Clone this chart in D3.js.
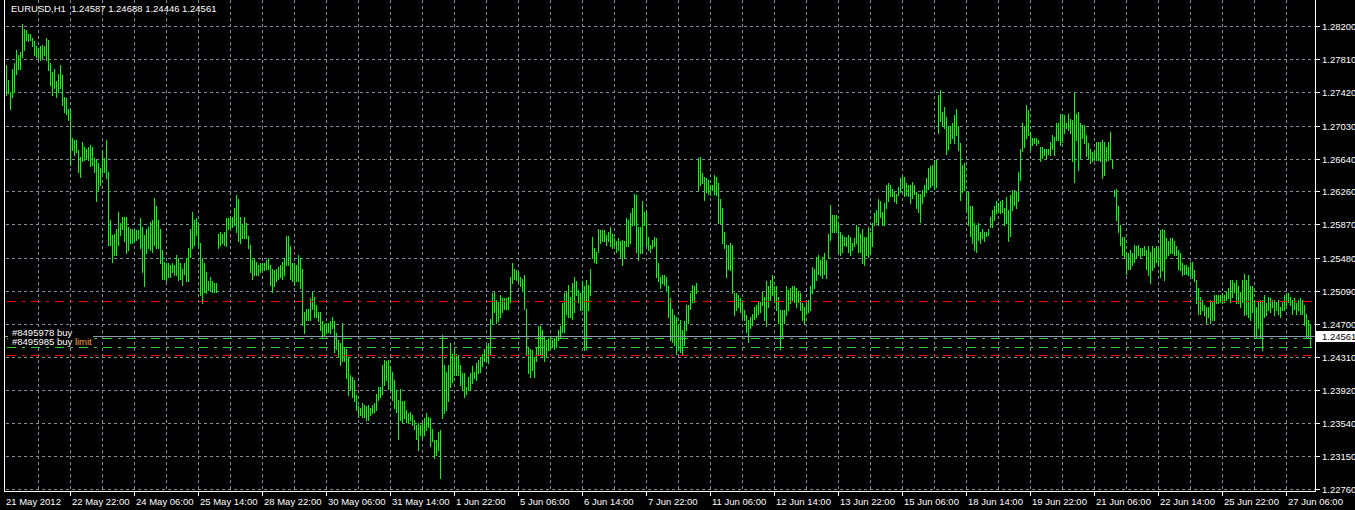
<!DOCTYPE html>
<html><head><meta charset="utf-8">
<script src="https://cdn.jsdelivr.net/npm/d3@7"></script>
<style>
html,body{margin:0;padding:0;background:#000;}
svg{display:block;}
text{font-family:"Liberation Sans",Arial,sans-serif;font-size:9.5px;white-space:pre;}
</style></head>
<body><svg id="chart" width="1355" height="510"></svg>
<script>
// ---- DATA (EURUSD H1, one bar per hour, 21 May 2012 14:00 .. 27 Jun 2012 18:00) ----
const symbolTitle = "EURUSD,H1  1.24587 1.24688 1.24446 1.24561";
const highs = [
1.2774,1.2757,1.2743,1.2770,1.2776,1.2792,1.2786,1.2790,1.2822,1.2817,
1.2815,1.2811,1.2811,1.2806,1.2802,1.2796,1.2794,1.2796,1.2798,1.2796,
1.2806,1.2804,1.2776,1.2766,1.2770,1.2755,1.2764,1.2774,1.2762,1.2737,
1.2735,1.2723,1.2721,1.2688,1.2686,1.2686,1.2674,1.2666,1.2684,1.2678,
1.2676,1.2678,1.2680,1.2678,1.2665,1.2663,1.2659,1.2653,1.2674,1.2665,
1.2686,1.2649,1.2592,1.2574,1.2576,1.2582,1.2602,1.2588,1.2596,1.2596,
1.2596,1.2584,1.2582,1.2582,1.2582,1.2580,1.2580,1.2594,1.2584,1.2574,
1.2582,1.2584,1.2590,1.2592,1.2618,1.2608,1.2592,1.2582,1.2557,1.2543,
1.2541,1.2541,1.2539,1.2541,1.2539,1.2551,1.2547,1.2541,1.2535,1.2541,
1.2547,1.2559,1.2582,1.2602,1.2592,1.2594,1.2586,1.2565,1.2547,1.2541,
1.2531,1.2520,1.2525,1.2520,1.2518,1.2518,1.2576,1.2578,1.2576,1.2578,
1.2594,1.2594,1.2596,1.2596,1.2606,1.2621,1.2617,1.2596,1.2586,1.2596,
1.2588,1.2573,1.2563,1.2545,1.2547,1.2543,1.2539,1.2541,1.2541,1.2541,
1.2545,1.2547,1.2539,1.2535,1.2533,1.2535,1.2537,1.2539,1.2543,1.2547,
1.2573,1.2573,1.2561,1.2541,1.2541,1.2539,1.2551,1.2547,1.2535,1.2484,
1.2488,1.2488,1.2500,1.2508,1.2502,1.2492,1.2484,1.2484,1.2473,1.2469,
1.2471,1.2471,1.2473,1.2478,1.2473,
1.2459,1.2451,1.2447,1.2471,1.2443,1.2441,1.2431,1.2410,1.2408,1.2404,
1.2386,1.2373,1.2371,1.2377,1.2375,1.2373,1.2375,1.2371,1.2375,1.2377,
1.2388,1.2396,1.2396,1.2422,1.2428,1.2426,1.2428,1.2420,1.2414,1.2404,
1.2392,1.2381,1.2394,1.2379,1.2379,1.2369,1.2365,1.2367,1.2363,1.2357,
1.2351,1.2353,1.2351,1.2353,1.2359,1.2365,1.2361,1.2359,1.2347,1.2334,
1.2334,1.2343,1.2345,1.2457,1.2422,1.2414,1.2422,1.2447,1.2435,1.2441,
1.2435,1.2433,1.2422,1.2412,1.2412,1.2396,1.2408,1.2412,1.2420,1.2414,
1.2424,1.2428,1.2431,1.2435,1.2441,1.2445,1.2447,1.2476,1.2506,1.2508,
1.2498,1.2496,1.2504,1.2500,1.2500,1.2500,1.2502,1.2525,1.2541,1.2535,
1.2533,1.2531,1.2525,1.2523,1.2527,1.2488,1.2443,1.2441,1.2439,1.2431,
1.2443,1.2467,1.2467,1.2463,1.2455,1.2451,1.2453,1.2455,1.2451,1.2453,
1.2455,1.2463,1.2467,1.2494,1.2506,1.2508,1.2516,1.2502,1.2518,1.2525,
1.2520,1.2510,1.2506,1.2520,1.2514,1.2522,1.2516,1.2535,1.2572,1.2559,
1.2555,1.2582,1.2580,1.2580,1.2580,1.2574,1.2578,1.2584,1.2576,1.2571,
1.2567,1.2571,1.2567,1.2569,1.2567,1.2594,1.2592,1.2600,1.2606,1.2623,
1.2621,1.2584,1.2584,1.2614,1.2602,1.2602,1.2572,1.2563,1.2569,1.2572,
1.2571,1.2541,1.2525,1.2527,1.2527,1.2525,1.2514,
1.2500,1.2488,1.2480,1.2478,1.2469,1.2475,1.2463,1.2473,1.2492,1.2492,
1.2506,1.2516,1.2514,1.2518,1.2665,1.2666,1.2647,1.2643,1.2641,1.2639,
1.2633,1.2633,1.2645,1.2643,1.2635,1.2617,1.2606,1.2578,1.2563,1.2563,
1.2565,1.2563,1.2506,1.2506,1.2504,1.2500,1.2494,1.2486,1.2480,1.2475,
1.2478,1.2482,1.2490,1.2492,1.2496,1.2496,1.2508,1.2502,1.2520,1.2514,
1.2522,1.2527,1.2514,1.2514,1.2502,1.2486,1.2486,1.2486,1.2514,1.2510,
1.2512,1.2514,1.2514,1.2512,1.2508,1.2506,1.2494,1.2490,1.2494,1.2498,
1.2514,1.2537,1.2535,1.2549,1.2551,1.2545,1.2549,1.2553,1.2545,1.2576,
1.2610,1.2598,1.2598,1.2598,1.2588,1.2578,1.2574,1.2572,1.2572,1.2574,
1.2572,1.2565,1.2571,1.2586,1.2584,1.2576,1.2582,1.2572,1.2572,1.2584,
1.2578,1.2588,1.2600,1.2604,1.2617,1.2614,1.2602,1.2612,1.2633,1.2635,
1.2633,1.2629,1.2625,1.2623,1.2631,1.2641,1.2645,1.2643,1.2635,1.2633,
1.2633,1.2637,1.2633,1.2625,1.2623,1.2623,1.2627,1.2633,1.2641,1.2653,
1.2655,1.2657,1.2663,1.2663,1.2739,1.2745,1.2719,1.2725,1.2713,1.2702,
1.2702,1.2706,1.2715,1.2723,1.2702,1.2682,1.2657,1.2659,1.2625,1.2625,
1.2608,1.2608,1.2588,1.2586,1.2588,1.2578,1.2582,1.2578,1.2578,1.2582,
1.2596,1.2604,1.2608,1.2614,1.2612,1.2614,1.2616,1.2606,
1.2619,1.2604,1.2621,1.2627,1.2627,1.2625,1.2649,1.2676,1.2706,1.2702,
1.2727,1.2721,1.2696,1.2688,1.2688,1.2688,1.2686,1.2678,1.2678,1.2676,
1.2676,1.2676,1.2684,1.2692,1.2690,1.2706,1.2706,1.2717,1.2717,1.2715,
1.2706,1.2717,1.2711,1.2709,1.2741,1.2717,1.2719,1.2706,1.2704,1.2704,
1.2692,1.2682,1.2676,1.2672,1.2674,1.2684,1.2684,1.2684,1.2686,1.2684,
1.2678,1.2684,1.2696,1.2663,1.2627,1.2629,1.2608,1.2586,1.2572,1.2572,
1.2553,1.2553,1.2557,1.2553,1.2563,1.2561,1.2563,1.2559,1.2559,1.2561,
1.2557,1.2561,1.2555,1.2561,1.2559,1.2561,1.2559,1.2580,1.2582,1.2580,
1.2571,1.2567,1.2571,1.2571,1.2567,1.2561,1.2557,1.2553,1.2541,1.2539,
1.2539,1.2537,1.2543,1.2543,1.2533,1.2522,1.2512,1.2502,1.2498,1.2492,
1.2490,1.2490,1.2498,1.2496,1.2504,1.2504,1.2504,1.2504,1.2506,1.2504,
1.2508,1.2512,1.2522,1.2522,1.2518,1.2522,1.2514,1.2508,1.2522,1.2529,
1.2522,1.2527,1.2514,1.2514,1.2498,1.2490,1.2496,1.2498,1.2498,1.2504,
1.2494,1.2502,1.2500,1.2498,1.2498,1.2496,1.2498,1.2490,1.2496,1.2504,
1.2506,1.2506,1.2502,1.2498,1.2500,1.2494,1.2498,1.2500,1.2498,1.2492,
1.2482,1.2475,1.24688
];
const lows = [
1.2739,1.2741,1.2723,1.2737,1.2743,1.2764,1.2770,1.2770,1.2784,1.2792,
1.2804,1.2802,1.2804,1.2796,1.2786,1.2784,1.2782,1.2780,1.2782,1.2786,
1.2780,1.2768,1.2751,1.2739,1.2747,1.2737,1.2743,1.2747,1.2727,1.2719,
1.2717,1.2709,1.2657,1.2674,1.2668,1.2672,1.2649,1.2643,1.2661,1.2663,
1.2665,1.2663,1.2655,1.2657,1.2649,1.2614,1.2627,1.2633,1.2649,1.2649,
1.2641,1.2563,1.2563,1.2543,1.2551,1.2551,1.2563,1.2574,1.2582,1.2567,
1.2553,1.2557,1.2565,1.2565,1.2567,1.2569,1.2571,1.2559,1.2531,1.2514,
1.2553,1.2559,1.2557,1.2555,1.2563,1.2559,1.2559,1.2541,1.2523,1.2523,
1.2520,1.2525,1.2525,1.2531,1.2527,1.2527,1.2521,1.2523,1.2516,1.2529,
1.2520,1.2520,1.2549,1.2559,1.2563,1.2574,1.2563,1.2504,1.2494,1.2508,
1.2506,1.2510,1.2510,1.2508,1.2508,1.2508,1.2559,1.2563,1.2565,1.2563,
1.2561,1.2582,1.2584,1.2584,1.2586,1.2578,1.2567,1.2565,1.2571,1.2571,
1.2571,1.2559,1.2531,1.2523,1.2527,1.2527,1.2527,1.2531,1.2533,1.2533,
1.2535,1.2535,1.2516,1.2508,1.2514,1.2520,1.2523,1.2525,1.2523,1.2527,
1.2539,1.2539,1.2523,1.2520,1.2516,1.2520,1.2520,1.2512,1.2469,1.2459,
1.2474,1.2474,1.2474,1.2488,1.2478,1.2478,1.2473,1.2463,1.2455,1.2457,
1.2459,1.2461,1.2459,1.2465,1.2437,
1.2441,1.2431,1.2422,1.2426,1.2426,1.2406,1.2386,1.2394,1.2384,1.2379,
1.2369,1.2361,1.2363,1.2361,1.2361,1.2357,1.2357,1.2363,1.2365,1.2367,
1.2369,1.2381,1.2384,1.2388,1.2398,1.2404,1.2394,1.2392,1.2381,1.2371,
1.2367,1.2335,1.2357,1.2355,1.2359,1.2355,1.2353,1.2357,1.2351,1.2347,
1.2335,1.2322,1.2339,1.2337,1.2339,1.2345,1.2349,1.2326,1.2332,1.2312,
1.2316,1.2322,1.2289,1.2359,1.2365,1.2369,1.2379,1.2396,1.2402,1.2410,
1.2410,1.2410,1.2398,1.2392,1.2384,1.2388,1.2394,1.2392,1.2400,1.2406,
1.2404,1.2412,1.2414,1.2420,1.2426,1.2426,1.2424,1.2433,1.2471,1.2484,
1.2471,1.2473,1.2478,1.2484,1.2488,1.2488,1.2488,1.2496,1.2518,1.2523,
1.2522,1.2520,1.2514,1.2510,1.2488,1.2435,1.2412,1.2408,1.2416,1.2408,
1.2426,1.2435,1.2435,1.2431,1.2426,1.2431,1.2439,1.2441,1.2443,1.2441,
1.2443,1.2451,1.2455,1.2461,1.2461,1.2482,1.2478,1.2478,1.2476,1.2484,
1.2504,1.2496,1.2486,1.2486,1.2439,1.2441,1.2486,1.2504,1.2547,1.2543,
1.2541,1.2555,1.2565,1.2567,1.2567,1.2563,1.2567,1.2561,1.2559,1.2563,
1.2555,1.2557,1.2547,1.2539,1.2547,1.2561,1.2561,1.2565,1.2586,1.2586,
1.2555,1.2545,1.2553,1.2553,1.2586,1.2563,1.2557,1.2555,1.2559,1.2561,
1.2525,1.2520,1.2512,1.2518,1.2516,1.2510,1.2478,
1.2451,1.2449,1.2445,1.2435,1.2439,1.2437,1.2433,1.2445,1.2463,1.2471,
1.2488,1.2496,1.2496,1.2506,1.2627,1.2633,1.2635,1.2616,1.2625,1.2623,
1.2621,1.2627,1.2623,1.2621,1.2588,1.2588,1.2565,1.2559,1.2525,1.2535,
1.2533,1.2506,1.2480,1.2486,1.2490,1.2484,1.2478,1.2475,1.2461,1.2449,
1.2465,1.2469,1.2476,1.2478,1.2482,1.2484,1.2492,1.2475,1.2467,1.2490,
1.2498,1.2504,1.2496,1.2486,1.2471,1.2441,1.2453,1.2471,1.2480,1.2486,
1.2494,1.2498,1.2496,1.2490,1.2496,1.2486,1.2475,1.2471,1.2482,1.2484,
1.2486,1.2506,1.2512,1.2522,1.2529,1.2527,1.2524,1.2529,1.2524,1.2547,
1.2569,1.2578,1.2578,1.2578,1.2553,1.2551,1.2555,1.2563,1.2561,1.2555,
1.2551,1.2557,1.2561,1.2565,1.2555,1.2555,1.2541,1.2539,1.2551,1.2549,
1.2553,1.2561,1.2586,1.2590,1.2586,1.2596,1.2586,1.2586,1.2606,1.2614,
1.2620,1.2620,1.2614,1.2612,1.2621,1.2625,1.2631,1.2620,1.2621,1.2620,
1.2612,1.2618,1.2623,1.2606,1.2602,1.2590,1.2612,1.2620,1.2625,1.2629,
1.2631,1.2633,1.2629,1.2631,1.2694,1.2708,1.2702,1.2700,1.2670,1.2676,
1.2682,1.2688,1.2682,1.2692,1.2674,1.2616,1.2625,1.2627,1.2602,1.2586,
1.2573,1.2565,1.2557,1.2555,1.2569,1.2565,1.2571,1.2567,1.2573,1.2574,
1.2584,1.2584,1.2592,1.2600,1.2602,1.2600,1.2602,1.2586,
1.2588,1.2567,1.2573,1.2604,1.2610,1.2606,1.2614,1.2639,1.2673,1.2678,
1.2688,1.2692,1.2674,1.2680,1.2682,1.2680,1.2682,1.2661,1.2665,1.2668,
1.2665,1.2670,1.2668,1.2676,1.2668,1.2686,1.2686,1.2680,1.2684,1.2694,
1.2700,1.2698,1.2694,1.2661,1.2637,1.2686,1.2651,1.2665,1.2688,1.2682,
1.2667,1.2665,1.2659,1.2661,1.2663,1.2663,1.2663,1.2661,1.2641,1.2645,
1.2661,1.2663,1.2665,1.2653,1.2620,1.2592,1.2578,1.2563,1.2551,1.2547,
1.2529,1.2535,1.2535,1.2539,1.2543,1.2547,1.2551,1.2549,1.2551,1.2551,
1.2535,1.2527,1.2518,1.2533,1.2537,1.2543,1.2539,1.2525,1.2533,1.2522,
1.2547,1.2551,1.2553,1.2553,1.2551,1.2551,1.2535,1.2533,1.2527,1.2529,
1.2529,1.2527,1.2525,1.2524,1.2520,1.2494,1.2482,1.2482,1.2486,1.2480,
1.2471,1.2478,1.2471,1.2475,1.2475,1.2494,1.2494,1.2496,1.2494,1.2496,
1.2498,1.2500,1.2496,1.2502,1.2508,1.2494,1.2494,1.2490,1.2496,1.2480,
1.2482,1.2478,1.2475,1.2484,1.2453,1.2453,1.2465,1.2453,1.2439,1.2478,
1.2480,1.2486,1.2484,1.2490,1.2480,1.2486,1.2482,1.2478,1.2486,1.2486,
1.2492,1.2496,1.2492,1.2482,1.2488,1.2482,1.2486,1.2482,1.2482,1.2469,
1.2453,1.2453,1.24446
];
const priceTickLabels = ["1.28200","1.27810","1.27420","1.27030","1.26640","1.26260","1.25870",
  "1.25480","1.25090","1.24700","1.24310","1.23920","1.23540","1.23150","1.22760"];
// time labels: one every 32 bars (first one is the first bar's date)
const timeLabels = ["21 May 2012","22 May 22:00","24 May 06:00","25 May 14:00","28 May 22:00",
  "30 May 06:00","31 May 14:00","1 Jun 22:00","5 Jun 06:00","6 Jun 14:00","7 Jun 22:00",
  "11 Jun 06:00","12 Jun 14:00","13 Jun 22:00","15 Jun 06:00","18 Jun 14:00","19 Jun 22:00",
  "21 Jun 06:00","22 Jun 14:00","25 Jun 22:00","27 Jun 06:00"];
const labelEvery = 32, gridEvery = 16;
const bidPrice = 1.24561;
const orderLevels = [
  {name:"tp",        price:1.2497,  kind:"stop"},
  {name:"buy",       price:1.2453,  kind:"order"},
  {name:"buy limit", price:1.24425, kind:"pending"},
  {name:"sl",        price:1.2433,  kind:"stop"}
];
const orderLabels = [["#8495978 buy",""],["#8495985 buy ","limit"]];

// ---- DRAWING ----
const svg = d3.select("#chart");
const plotL = 5, plotR = 1315, plotB = 491;
const n = highs.length;
const x = d3.scaleLinear().domain([0, n - 1]).range([6.5, 6.5 + 2 * (n - 1)]);
const y = d3.scaleLinear().domain([1.2276, 1.2820]).range([489, 26]);
const tickVals = priceTickLabels.map(Number);
const py = v => Math.round(y(v)) + 0.5;

svg.append("rect").attr("width",1355).attr("height",510).attr("fill","#000");

const grid = svg.append("g").attr("stroke","#7f8fa0").attr("stroke-dasharray","3,3").attr("shape-rendering","crispEdges");
grid.selectAll("line.h").data(tickVals).join("line").attr("class","h")
  .attr("x1",plotL+1).attr("x2",plotR).attr("y1",d=>py(d)).attr("y2",d=>py(d));
const vIdx = d3.range(gridEvery, n, gridEvery).filter(i => x(i) < plotR - 2);
grid.selectAll("line.v").data(vIdx).join("line").attr("class","v")
  .attr("x1",d=>x(d)).attr("x2",d=>x(d)).attr("y1",0).attr("y2",plotB);

// bars (high-low)
svg.append("g").attr("stroke","#00ff00").attr("shape-rendering","crispEdges")
  .selectAll("line").data(d3.range(n)).join("line")
  .attr("x1",i=>x(i)).attr("x2",i=>x(i))
  .attr("y1",i=>Math.round(y(highs[i]))).attr("y2",i=>Math.round(y(lows[i]))+1);

// bid line
svg.append("line").attr("x1",plotL).attr("x2",plotR+1).attr("y1",py(bidPrice)).attr("y2",py(bidPrice))
  .attr("stroke","#8c9aab").attr("shape-rendering","crispEdges");
// order levels
const styleOf = {stop:{c:"#ff0000",d:"9,6,3,6"}, order:{c:"#32cd32",d:"9,6,3,6"}, pending:{c:"#32cd32",d:"9,6,3,6"}};
svg.append("g").attr("shape-rendering","crispEdges").selectAll("line").data(orderLevels).join("line")
  .attr("x1",plotL+2).attr("x2",plotR).attr("y1",d=>py(d.price)).attr("y2",d=>py(d.price))
  .attr("stroke",d=>styleOf[d.kind].c).attr("stroke-dasharray",d=>styleOf[d.kind].d);

// order labels
svg.append("rect").attr("x",8).attr("y",327).attr("width",85).attr("height",19).attr("fill","#000");
const ot = svg.selectAll("text.ord").data(orderLabels).join("text").attr("class","ord")
  .attr("x",12).attr("y",(d,i)=>336+i*9).attr("fill","#fff");
ot.append("tspan").text(d=>d[0]);
ot.append("tspan").attr("fill","#f0a040").text(d=>d[1]);

// frame
svg.append("g").attr("stroke","#fff").attr("shape-rendering","crispEdges").call(g=>{
  g.append("line").attr("x1",4.5).attr("x2",4.5).attr("y1",0).attr("y2",plotB+0.5);
  g.append("line").attr("x1",plotR+0.5).attr("x2",plotR+0.5).attr("y1",0).attr("y2",plotB+0.5);
  g.append("line").attr("x1",4.5).attr("x2",plotR+0.5).attr("y1",plotB+0.5).attr("y2",plotB+0.5);
});

// price axis
const pa = svg.append("g");
pa.selectAll("line").data(tickVals).join("line").attr("x1",plotR+1).attr("x2",plotR+5)
  .attr("y1",d=>py(d)).attr("y2",d=>py(d)).attr("stroke","#fff").attr("shape-rendering","crispEdges");
pa.selectAll("text").data(priceTickLabels).join("text").attr("x",plotR+7).attr("y",(d,i)=>py(tickVals[i])+3.5)
  .attr("fill","#fff").text(d=>d);
// bid price box
svg.append("rect").attr("x",plotR+1).attr("y",Math.round(y(bidPrice))-5).attr("width",40).attr("height",11).attr("fill","#fff");
svg.append("text").attr("x",plotR+7).attr("y",Math.round(y(bidPrice))+4).attr("fill","#000").text(d3.format(".5f")(bidPrice));

// time axis
const tIdx = timeLabels.map((d,i)=>i*labelEvery);
const ta = svg.append("g");
ta.selectAll("line").data(tIdx.slice(1)).join("line").attr("x1",d=>x(d)).attr("x2",d=>x(d))
  .attr("y1",plotB+1).attr("y2",plotB+5).attr("stroke","#fff").attr("shape-rendering","crispEdges");
ta.selectAll("text").data(timeLabels).join("text").attr("x",(d,i)=>i===0?6:x(tIdx[i])+1.5).attr("y",505)
  .attr("fill","#fff").text(d=>d);

// title
svg.append("text").attr("x",11).attr("y",12).attr("fill","#fff").text(symbolTitle);
</script>
</body></html>
